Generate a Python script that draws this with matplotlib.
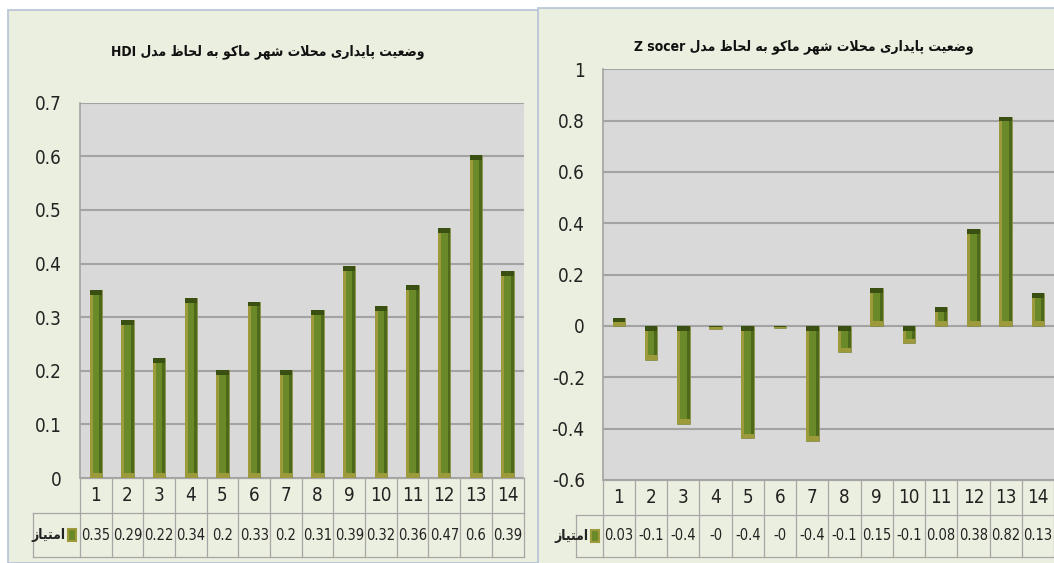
import numpy as np
import matplotlib
matplotlib.use('Agg')
import matplotlib.pyplot as plt
from matplotlib.patches import Rectangle
from matplotlib.transforms import blended_transform_factory

W, H = 1054, 563

# data
cats = [str(i) for i in range(1, 15)]
hdi = [0.351, 0.295, 0.223, 0.336, 0.201, 0.329, 0.201, 0.313, 0.395, 0.321, 0.36, 0.466, 0.602, 0.386]
hdi_lbl = ['0.35', '0.29', '0.22', '0.34', '0.2', '0.33', '0.2', '0.31', '0.39', '0.32', '0.36', '0.47', '0.6', '0.39']
zsc = [0.033, -0.131, -0.38, -0.01, -0.437, -0.006, -0.448, -0.103, 0.147, -0.068, 0.073, 0.377, 0.815, 0.127]
zsc_lbl = ['0.03', '-0.1', '-0.4', '-0', '-0.4', '-0', '-0.4', '-0.1', '0.15', '-0.1', '0.08', '0.38', '0.82', '0.13']
title_fa = 'وضعیت پایداری محلات شهر ماکو به لحاظ مدل'
series_fa = 'امتیاز'

# minimal Persian shaping (isolated, final, initial, medial)
FORMS = {
    'ا': ('\uFE8D', '\uFE8E', None, None),
    'ب': ('\uFE8F', '\uFE90', '\uFE91', '\uFE92'),
    'پ': ('\uFB56', '\uFB57', '\uFB58', '\uFB59'),
    'ت': ('\uFE95', '\uFE96', '\uFE97', '\uFE98'),
    'ح': ('\uFEA1', '\uFEA2', '\uFEA3', '\uFEA4'),
    'د': ('\uFEA9', '\uFEAA', None, None),
    'ر': ('\uFEAD', '\uFEAE', None, None),
    'ز': ('\uFEAF', '\uFEB0', None, None),
    'ش': ('\uFEB5', '\uFEB6', '\uFEB7', '\uFEB8'),
    'ض': ('\uFEBD', '\uFEBE', '\uFEBF', '\uFEC0'),
    'ظ': ('\uFEC5', '\uFEC6', '\uFEC7', '\uFEC8'),
    'ع': ('\uFEC9', '\uFECA', '\uFECB', '\uFECC'),
    'ک': ('\uFB8E', '\uFB8F', '\uFB90', '\uFB91'),
    'ل': ('\uFEDD', '\uFEDE', '\uFEDF', '\uFEE0'),
    'م': ('\uFEE1', '\uFEE2', '\uFEE3', '\uFEE4'),
    'ه': ('\uFEE9', '\uFEEA', '\uFEEB', '\uFEEC'),
    'و': ('\uFEED', '\uFEEE', None, None),
    'ی': ('\uFBFC', '\uFBFD', '\uFBFE', '\uFBFF'),
}


def fa(s):
    out = []
    i = 0
    n = len(s)
    while i < n:
        c = s[i]
        if c not in FORMS:
            out.append(c)
            i += 1
            continue
        prev = s[i-1] if i > 0 else None
        nxt = s[i+1] if i < n-1 else None
        jp = prev in FORMS and FORMS[prev][2] is not None
        if c == 'ل' and nxt == 'ا':
            out.append('\uFEFC' if jp else '\uFEFB')
            i += 2
            continue
        jn = nxt in FORMS and FORMS[c][2] is not None
        idx = {(False, False): 0, (True, False): 1, (False, True): 2, (True, True): 3}[(jp, jn)]
        out.append(FORMS[c][idx])
        i += 1
    return ''.join(out)[::-1]


num_kw = dict(family='DejaVu Sans', fontstretch='condensed', color='#222222')
panel_bg = '#ebefdf'
frame_col = '#b6c2d6'
grid_col = '#a3a3a3'
plot_bg = '#d9d9d9'
c_main, c_light, c_dark, c_cap = '#6a8a2a', '#9c9a3a', '#4c6a1a', '#3a5012'

fig = plt.figure(figsize=(W/100, H/100), dpi=100)
fig.patch.set_facecolor('white')


def fx(x):
    return x / W


def fy(y):
    return 1 - y / H


# panel backgrounds
fig.add_artist(Rectangle((fx(8), 0), fx(540), fy(10), transform=fig.transFigure,
                         facecolor=panel_bg, edgecolor=frame_col, lw=1.2, zorder=-5))
fig.add_artist(Rectangle((fx(538), -0.01), fx(530), fy(8) + 0.01, transform=fig.transFigure,
                         facecolor=panel_bg, edgecolor=frame_col, lw=1.2, zorder=-4))


def draw(ax, vals, lbls, ylim, step, cap, title, title_xy, rows, key_x0):
    x = np.arange(len(cats))
    w = 0.39
    ax.set_facecolor(plot_bg)
    ax.set_xlim(-0.5, len(cats) - 0.5)
    ax.set_ylim(*ylim)
    ticks = np.round(np.arange(ylim[0], ylim[1] + step/2, step), 2)
    ax.set_yticks(ticks)
    ax.set_yticklabels([('%g' % t) for t in ticks], fontsize=13.5, **num_kw)
    ax.tick_params(axis='y', length=0, pad=13)
    ax.tick_params(axis='x', length=0, labelbottom=False)
    ax.grid(axis='y', color=grid_col, lw=1.5)
    ax.set_axisbelow(True)
    for s in ['top', 'right', 'bottom']:
        ax.spines[s].set_visible(False)
    ax.spines['left'].set_color(grid_col)
    ax.spines['left'].set_linewidth(1.2)

    vals = np.array(vals)
    ax.bar(x, vals, width=w, color=c_main, edgecolor='#8a8a40', lw=0.5, zorder=3)
    ax.bar(x - w*0.38, vals, width=w*0.24, color=c_light, lw=0, zorder=3)
    ax.bar(x + w*0.38, vals, width=w*0.24, color=c_dark, lw=0, zorder=3)
    top = np.maximum(vals, 0)
    bot = np.minimum(vals, 0)
    ch = np.minimum(np.abs(vals)/2, cap)
    ax.bar(x, ch, bottom=top - ch, width=w, color=c_cap, lw=0, zorder=4)
    ax.bar(x, ch, bottom=bot, width=w, color=c_light, lw=0, zorder=4)

    # data table under the axis
    tr = blended_transform_factory(ax.transData, fig.transFigure)
    y0, y1, y2 = [fy(r) for r in rows]
    kw = dict(color='#a6a6a6', lw=0.9, transform=tr, clip_on=False)
    for y in (y0, y1, y2):
        ax.plot([-0.5, len(cats) - 0.5], [y, y], **kw)
    for b in np.arange(-0.5, len(cats), 1.0):
        ax.plot([b, b], [y0, y2], **kw)
    tf = fig.transFigure
    ax0 = ax.get_position().x0
    ax.plot([fx(key_x0), fx(key_x0)], [y1, y2], color='#a6a6a6', lw=0.9, transform=tf, clip_on=False)
    ax.plot([fx(key_x0), ax0], [y1, y1], color='#a6a6a6', lw=0.9, transform=tf, clip_on=False)
    ax.plot([fx(key_x0), ax0], [y2, y2], color='#a6a6a6', lw=0.9, transform=tf, clip_on=False)
    for i in range(len(cats)):
        ax.text(x[i], (y0 + y1)/2, cats[i], transform=tr, ha='center', va='center',
                fontsize=13.5, **num_kw)
        ax.text(x[i], (y1 + y2)/2, lbls[i], transform=tr, ha='center', va='center',
                fontsize=10.5, **num_kw)
    ym = (y1 + y2)/2
    fig.add_artist(Rectangle((ax0 - fx(12), ym - 6/H), fx(8), 12/H,
                             transform=tf, facecolor=c_main, edgecolor=c_light, lw=1.5))
    fig.text(ax0 - fx(14), ym, fa(series_fa), ha='right', va='center',
             family='DejaVu Sans', fontstretch='condensed', fontweight='bold',
             fontsize=10, color='#222222')
    fig.text(fx(title_xy[0]), fy(title_xy[1]), title, ha='center', va='center',
             family='DejaVu Sans', fontstretch='condensed', fontsize=10, fontweight='bold',
             color='#111111')


ax1 = fig.add_axes([fx(80), fy(478), fx(443.5), fy(102.7) - fy(478)])
draw(ax1, hdi, hdi_lbl, (0, 0.7), 0.1, 0.009, 'HDI ' + fa(title_fa), (268, 52),
     (478, 513, 557), 33)

ax2 = fig.add_axes([fx(602.7), fy(480), fx(451.3), fy(69.3) - fy(480)])
draw(ax2, zsc, zsc_lbl, (-0.6, 1.0), 0.2, 0.018, 'Z socer ' + fa(title_fa), (804, 47),
     (480, 515, 557), 576)

fig.savefig('out.png', dpi=100, facecolor=fig.get_facecolor())
